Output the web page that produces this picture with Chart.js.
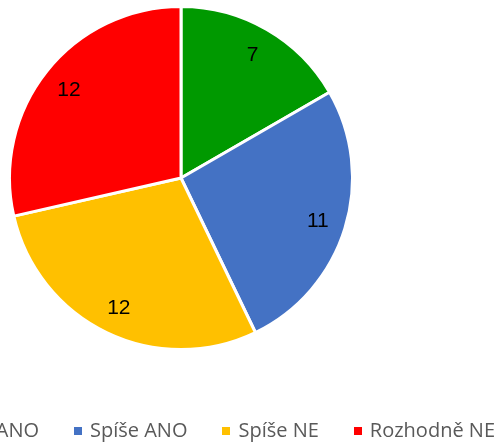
<!DOCTYPE html>
<html>
<head>
<meta charset="utf-8">
<script src="https://cdn.jsdelivr.net/npm/chart.js@4/dist/chart.umd.min.js"></script>
<style>
html,body{margin:0;padding:0;background:#fff;overflow:hidden;}
#wrap{position:absolute;left:0;top:0;width:502px;height:442px;}
</style>
</head>
<body>
<div id="wrap"><canvas id="c" width="502" height="442"></canvas></div>
<script>
const categories = ['Rozhodně ANO', 'Spíše ANO', 'Spíše NE', 'Rozhodně NE'];
const values = [7, 11, 12, 12];
const colors = ['#009900', '#4472C4', '#FFC000', '#FF0000'];

const labelPlugin = {
  id: 'sliceLabels',
  afterDatasetsDraw(chart) {
    const ctx = chart.ctx;
    const meta = chart.getDatasetMeta(0);
    ctx.save();
    ctx.font = '21px "Liberation Sans", Arial, sans-serif';
    ctx.fillStyle = '#000000';
    ctx.textAlign = 'center';
    ctx.textBaseline = 'middle';
    meta.data.forEach((arc, i) => {
      const p = arc.getProps(['x', 'y', 'startAngle', 'endAngle', 'outerRadius'], true);
      const mid = (p.startAngle + p.endAngle) / 2;
      const r = p.outerRadius * 0.835;
      ctx.fillText(String(chart.data.datasets[0].data[i]), p.x + Math.cos(mid) * r, p.y + Math.sin(mid) * r + 1);
    });
    ctx.restore();
  }
};

const legendPlugin = {
  id: 'bottomLegend',
  afterDraw(chart) {
    const ctx = chart.ctx;
    const labels = chart.data.labels;
    const cols = chart.data.datasets[0].backgroundColor;
    ctx.save();
    ctx.font = '20px "Open Sans", sans-serif';
    ctx.textBaseline = 'middle';
    ctx.textAlign = 'left';
    const box = 8, boxGap = 8, itemGap = 35;
    const widths = labels.map(t => box + boxGap + ctx.measureText(t).width);
    // span from second item's box to end of last text
    let w = 0;
    for (let i = 1; i < widths.length; i++) w += widths[i] + (i > 1 ? itemGap : 0);
    let x2 = 284.5 - w / 2;
    let x = x2 - itemGap - widths[0];
    const yMid = 431;
    labels.forEach((t, i) => {
      ctx.fillStyle = cols[i];
      ctx.fillRect(Math.round(x), yMid - 4, box, box);
      ctx.fillStyle = '#595959';
      ctx.fillText(t, x + box + boxGap, yMid);
      x += widths[i] + itemGap;
    });
    ctx.restore();
  }
};

new Chart(document.getElementById('c'), {
  type: 'pie',
  data: {
    labels: categories,
    datasets: [{
      data: values,
      backgroundColor: colors,
      borderColor: '#ffffff',
      borderWidth: 3
    }]
  },
  options: {
    responsive: false,
    animation: false,
    radius: 171.5,
    layout: { padding: { left: 0, right: 140, top: 8, bottom: 94 } },
    plugins: {
      legend: { display: false },
      tooltip: { enabled: false }
    }
  },
  plugins: [labelPlugin, legendPlugin]
});
</script>
</body>
</html>
